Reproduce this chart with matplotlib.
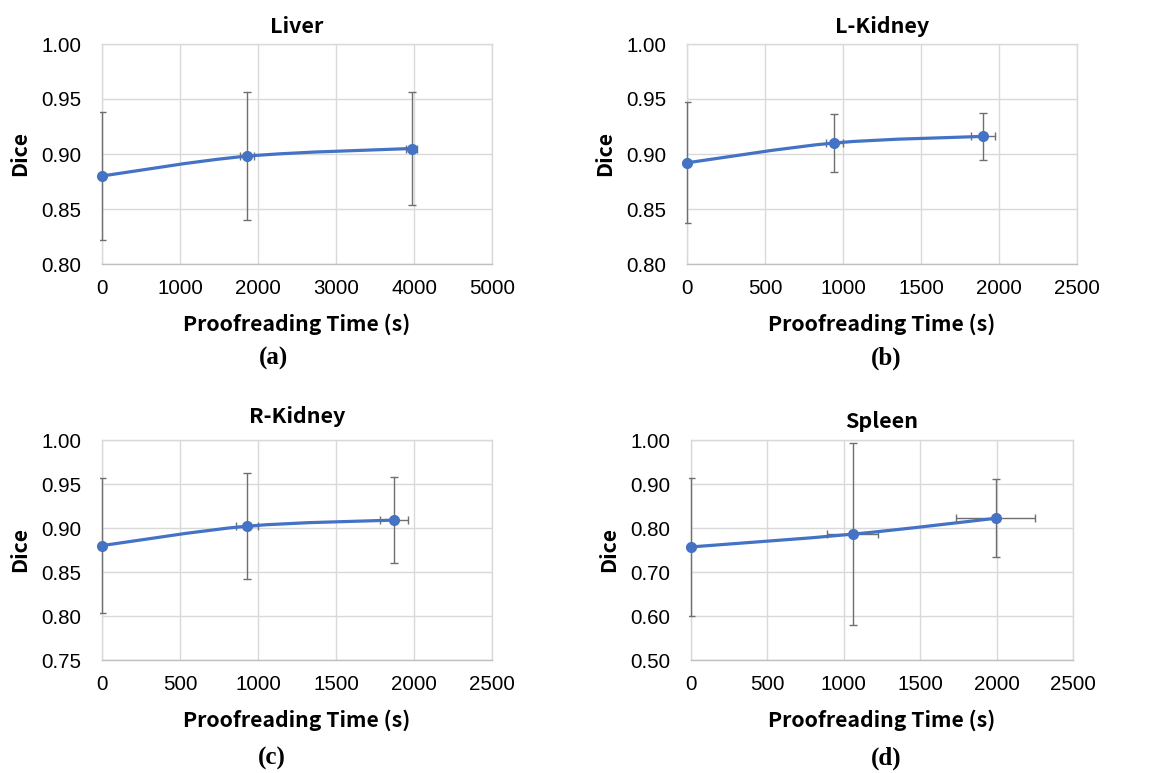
import numpy as np
import matplotlib
matplotlib.use("Agg")
import matplotlib.pyplot as plt
from matplotlib.path import Path
from matplotlib.patches import PathPatch
from matplotlib.transforms import Bbox, TransformedBbox

plt.rcParams["font.family"] = ["Liberation Sans", "DejaVu Sans"]

# data
organs = ["Liver", "L-Kidney", "R-Kidney", "Spleen"]
panel_tags = ["(a)", "(b)", "(c)", "(d)"]

liver_t = [0, 1855, 3970]
liver_t_err = [0, 90, 70]
liver_dice = [0.880, 0.898, 0.905]
liver_dice_err = [0.058, 0.058, 0.051]

lkid_t = [0, 944, 1896]
lkid_t_err = [0, 56, 76]
lkid_dice = [0.892, 0.910, 0.916]
lkid_dice_err = [0.055, 0.026, 0.021]

rkid_t = [0, 929, 1874]
rkid_t_err = [0, 70, 90]
rkid_dice = [0.880, 0.902, 0.909]
rkid_dice_err = [0.077, 0.060, 0.049]

spleen_t = [0, 1058, 1993]
spleen_t_err = [0, 168, 258]
spleen_dice = [0.757, 0.786, 0.822]
spleen_dice_err = [0.157, 0.207, 0.089]

x_limits = [(0, 5000), (0, 2500), (0, 2500), (0, 2500)]
x_ticks = [[0, 1000, 2000, 3000, 4000, 5000],
           [0, 500, 1000, 1500, 2000, 2500],
           [0, 500, 1000, 1500, 2000, 2500],
           [0, 500, 1000, 1500, 2000, 2500]]
y_limits = [(0.80, 1.00), (0.80, 1.00), (0.75, 1.00), (0.50, 1.00)]
y_ticks = [[0.80, 0.85, 0.90, 0.95, 1.00],
           [0.80, 0.85, 0.90, 0.95, 1.00],
           [0.75, 0.80, 0.85, 0.90, 0.95, 1.00],
           [0.50, 0.60, 0.70, 0.80, 0.90, 1.00]]

series = [
    (liver_t, liver_t_err, liver_dice, liver_dice_err),
    (lkid_t, lkid_t_err, lkid_dice, lkid_dice_err),
    (rkid_t, rkid_t_err, rkid_dice, rkid_dice_err),
    (spleen_t, spleen_t_err, spleen_dice, spleen_dice_err),
]

BLUE = "#4472C4"
GRID = "#d9d9d9"
LABEL_FONT = ["Noto Sans CJK SC", "DejaVu Sans"]

W, H = 1153, 773
fig = plt.figure(figsize=(W / 100, H / 100), dpi=100)

# axes boxes in pixels: left, top, right, bottom
boxes = [(102, 44, 492, 264), (687, 44, 1077, 264),
         (102, 440, 492, 660), (691, 440, 1073, 660)]
# caption centres in pixels
tag_xy = [(273, 358), (886, 358), (272, 758), (886, 758)]
title_pads = [8, 8, 12, 9]


def smooth_line(ax, xs, ys):
    # Excel-like smoothed line: cubic bezier through the points (axes coords)
    x0, x1 = ax.get_xlim()
    y0, y1 = ax.get_ylim()
    p = np.column_stack([(np.array(xs) - x0) / (x1 - x0),
                         (np.array(ys) - y0) / (y1 - y0)])
    verts = [p[0]]
    codes = [Path.MOVETO]
    n = len(p)
    for i in range(n - 1):
        prev = p[i - 1] if i > 0 else p[i]
        nxt = p[i + 2] if i + 2 < n else p[i + 1]
        c1 = p[i] + (p[i + 1] - prev) / 6
        c2 = p[i + 1] - (nxt - p[i]) / 6
        verts += [c1, c2, p[i + 1]]
        codes += [Path.CURVE4] * 3
    patch = PathPatch(Path(verts, codes), transform=ax.transAxes,
                      facecolor="none", edgecolor=BLUE, lw=2.3, zorder=3)
    ax.add_patch(patch)


for k, (name, tag) in enumerate(zip(organs, panel_tags)):
    l, t, r, b = boxes[k]
    ax = fig.add_axes([l / W, 1 - b / H, (r - l) / W, (b - t) / H])
    xs, xerr, ys, yerr = series[k]

    ax.set_xlim(*x_limits[k])
    ax.set_ylim(*y_limits[k])
    ax.set_xticks(x_ticks[k])
    ax.set_yticks(y_ticks[k])
    ax.set_yticklabels([f"{v:.2f}" for v in y_ticks[k]])
    ax.grid(True, color=GRID, lw=1.0)
    ax.set_axisbelow(True)
    for s in ax.spines.values():
        s.set_color(GRID)
        s.set_linewidth(1.0)
    ax.spines["bottom"].set_color("#bfbfbf")
    ax.tick_params(length=0, labelsize=14.8)
    ax.tick_params(axis="x", pad=11)
    ax.tick_params(axis="y", pad=15)

    eb = ax.errorbar(xs, ys, yerr=yerr, xerr=xerr, fmt="none", ecolor="#6f6f6f",
                     elinewidth=1.0, capsize=3, capthick=1.0, zorder=2.7)
    clip = TransformedBbox(Bbox([[-0.004, -0.1], [1.2, 1.1]]), ax.transAxes)
    for art in eb.lines[1] + eb.lines[2]:
        art.set_clip_box(clip)

    smooth_line(ax, xs, ys)
    ax.plot(xs, ys, "o", color=BLUE, ms=7, zorder=4, clip_on=False)

    ax.set_title(name, family=LABEL_FONT, fontweight="bold", fontsize=15.5,
                 pad=title_pads[k])
    ax.set_xlabel("Proofreading Time (s)", family=LABEL_FONT,
                  fontweight="bold", fontsize=15.3, labelpad=11)
    ax.set_ylabel("Dice", family=LABEL_FONT, fontweight="bold",
                  fontsize=15.3, labelpad=8)

    tx, ty = tag_xy[k]
    fig.text(tx / W, 1 - ty / H, tag,
             family="Liberation Serif", fontweight="bold", fontsize=18,
             ha="center", va="center")

fig.savefig("out.png", dpi=100)
